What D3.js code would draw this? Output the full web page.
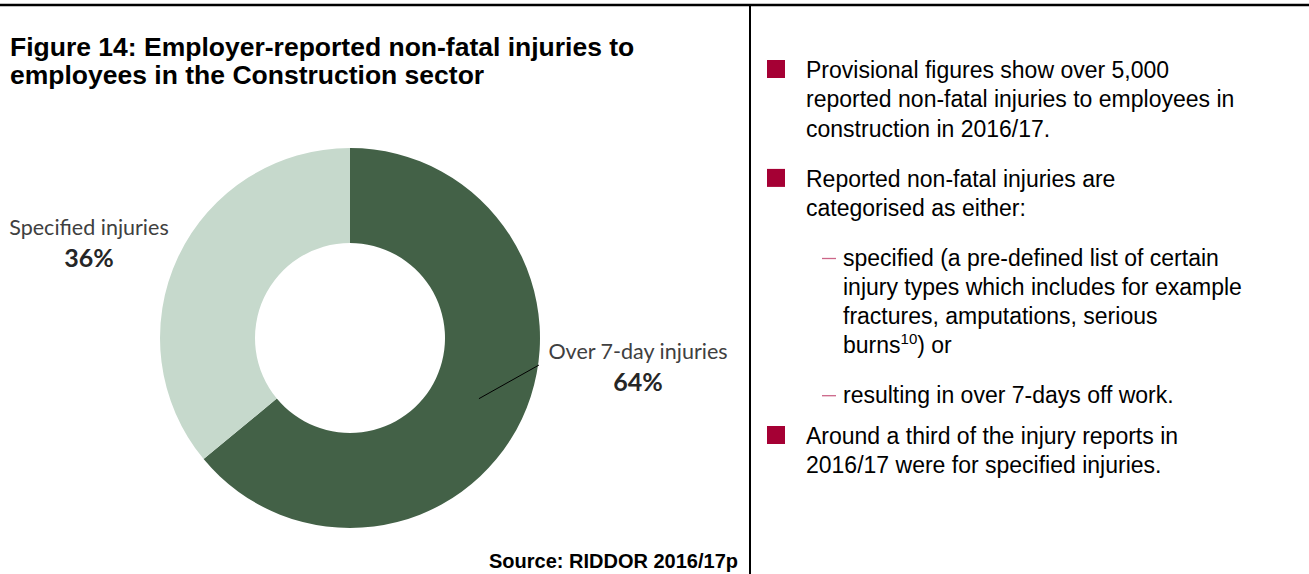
<!DOCTYPE html>
<html>
<head>
<meta charset="utf-8">
<script src="https://cdn.jsdelivr.net/npm/d3@7"></script>
<style>
  body { margin: 0; background: #fff; }
  svg { display: block; }
</style>
</head>
<body>
<div id="main"></div>
<script>
// ---- data ----
var categories = ["Over 7-day injuries", "Specified injuries"];
var shares = [64, 36];
var sliceColors = ["#436147", "#c6d9cc"];

var titleLines = ["Figure 14: Employer-reported non-fatal injuries to",
                  "employees in the Construction sector"];
var sourceText = "Source: RIDDOR 2016/17p";

// bullet text: [kind, lines]
var bullets = [
  ["sq", ["Provisional figures show over 5,000",
          "reported non-fatal injuries to employees in",
          "construction in 2016/17."]],
  ["sq", ["Reported non-fatal injuries are",
          "categorised as either:"]],
  ["dash", ["specified (a pre-defined list of certain",
            "injury types which includes for example",
            "fractures, amputations, serious",
            "burns|10|) or"]],
  ["dash", ["resulting in over 7-days off work."]],
  ["sq", ["Around a third of the injury reports in",
          "2016/17 were for specified injuries."]]
];

var width = 1309, height = 574;
var svg = d3.select("#main").append("svg")
    .attr("width", width)
    .attr("height", height);

// frame lines
svg.append("line").attr("x1", 0).attr("x2", width).attr("y1", 5).attr("y2", 5)
  .attr("stroke", "#000").attr("stroke-width", 2.5);
svg.append("line").attr("x1", 750).attr("x2", 750).attr("y1", 5).attr("y2", height)
  .attr("stroke", "#000").attr("stroke-width", 2);

// title
svg.append("g").selectAll("text")
  .data(titleLines).enter().append("text")
  .attr("x", 10)
  .attr("y", function(d, i){ return 56 + i * 28; })
  .attr("font-family", "'Liberation Sans', Arial, sans-serif")
  .attr("font-weight", "bold")
  .attr("font-size", "26.5px")
  .attr("fill", "#000")
  .text(function(d){ return d; });

// ---- donut ----
var center = {x: 350, y: 338},
    outerR = 190,
    innerR = 95;

var pie = d3.pie().sort(null).value(function(d){ return d; });
var arcs = pie(shares);
var arc = d3.arc().innerRadius(innerR).outerRadius(outerR);

var gPie = svg.append("g")
  .attr("transform", "translate(" + center.x + "," + center.y + ")");

gPie.selectAll("path")
  .data(arcs).enter().append("path")
  .attr("d", arc)
  .attr("fill", function(d, i){ return sliceColors[i]; });

// labels
var labelFont = "Lato, 'Open Sans', sans-serif";
var labelPos = [
  {x: 638, y: 359},   // over 7-day
  {x: 89, y: 235}     // specified
];

// leader line for the big slice
var c0 = arc.centroid(arcs[0]);
gPie.append("line")
  .attr("x1", c0[0]).attr("y1", c0[1])
  .attr("x2", 539 - center.x).attr("y2", 365 - center.y)
  .attr("stroke", "#000").attr("stroke-width", 1);

var lab = svg.append("g").selectAll("g")
  .data(arcs).enter().append("g");

lab.append("text")
  .attr("x", function(d, i){ return labelPos[i].x; })
  .attr("y", function(d, i){ return labelPos[i].y; })
  .attr("text-anchor", "middle")
  .attr("font-family", labelFont)
  .attr("font-size", "21.5px")
  .attr("fill", "#404040")
  .text(function(d, i){ return categories[i]; });

lab.append("text")
  .attr("x", function(d, i){ return labelPos[i].x; })
  .attr("y", function(d, i){ return labelPos[i].y + 32; })
  .attr("text-anchor", "middle")
  .attr("font-family", labelFont)
  .attr("font-weight", "bold")
  .attr("font-size", "25px")
  .attr("fill", "#262626")
  .text(function(d){ return d.data + "%"; });

// source
svg.append("text")
  .attr("x", 738).attr("y", 568)
  .attr("text-anchor", "end")
  .attr("font-family", "'Liberation Sans', Arial, sans-serif")
  .attr("font-weight", "bold")
  .attr("font-size", "20px")
  .text(sourceText);

// ---- right hand notes ----
var lineH = 29.3;
var gaps = [0, 21, 20, 20, 12];
var y = 78;
var gNotes = svg.append("g")
  .attr("font-family", "'Liberation Sans', Arial, sans-serif")
  .attr("font-size", "23px")
  .attr("fill", "#000");

bullets.forEach(function(b, bi){
  y += gaps[bi];
  var tx = b[0] == "sq" ? 806 : 843;
  if(b[0] == "sq"){
    gNotes.append("rect")
      .attr("x", 767).attr("y", y - 18)
      .attr("width", 18).attr("height", 18)
      .attr("fill", "#a50034");
  } else {
    gNotes.append("line")
      .attr("x1", 822).attr("x2", 836)
      .attr("y1", y - 7).attr("y2", y - 7)
      .attr("stroke", "#cc6688").attr("stroke-width", 1.3);
  }
  b[1].forEach(function(l){
    var t = gNotes.append("text").attr("x", tx).attr("y", y);
    var parts = l.split("|");
    if(parts.length > 1){
      t.append("tspan").text(parts[0]);
      t.append("tspan").attr("dy", -9).attr("font-size", "15px").text(parts[1]);
      t.append("tspan").attr("dy", 9).text(parts[2]);
    } else {
      t.text(l);
    }
    y += lineH;
  });
});
</script>
</body>
</html>
